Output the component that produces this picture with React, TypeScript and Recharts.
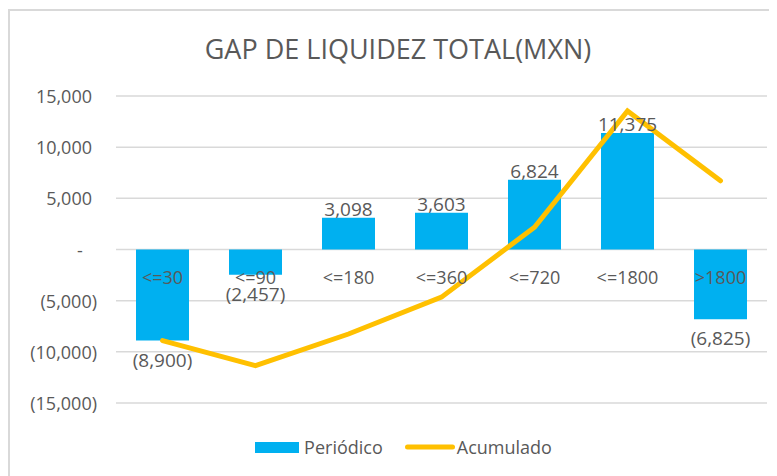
import React from 'react';
import { ComposedChart, Bar, Line, XAxis, YAxis, CartesianGrid, LabelList, Legend } from 'recharts';

const title = 'GAP DE LIQUIDEZ TOTAL(MXN)';
const categories = ['<=30', '<=90', '<=180', '<=360', '<=720', '<=1800', '>1800'];
const periodico = [-8900, -2457, 3098, 3603, 6824, 11375, -6825];
const acumulado = [-8900, -11357, -8259, -4656, 2168, 13543, 6718];
const yTicks = [15000, 10000, 5000, 0, -5000, -10000, -15000];
const seriesNames = { periodico: 'Periódico', acumulado: 'Acumulado' };

const data = categories.map((c, i) => ({ cat: c, periodico: periodico[i], acumulado: acumulado[i] }));

const FONT = '"Open Sans", sans-serif';
const TEXT = '#595959';
const BLUE = '#00B0F0';
const GOLD = '#FFC000';

const fmt = (v: number) => {
  const s = Math.abs(v).toLocaleString('en-US');
  if (v < 0) return `(${s})`;
  if (v === 0) return '-';
  return s;
};

const YTick = (props: any) => {
  const { x, y, payload } = props;
  const v = payload.value;
  let tx = x;
  let anchor = 'end';
  if (v < 0) tx = x + 5;
  else if (v === 0) {
    tx = x - 12;
    anchor = 'middle';
  }
  return (
    <text x={tx} y={y} textAnchor={anchor} dominantBaseline="central" fill={TEXT} fontSize={18} fontFamily={FONT}>
      {fmt(v)}
    </text>
  );
};

const geom = (props: any) => {
  const vb = props.viewBox || {};
  const x = Number(props.x ?? vb.x);
  const y = Number(props.y ?? vb.y);
  const w = Number(props.width ?? vb.width);
  const h = Number(props.height ?? vb.height);
  return { cx: x + w / 2, top: Math.min(y, y + h), bottom: Math.max(y, y + h) };
};

const ValueLabel = (props: any) => {
  const { cx, top, bottom } = geom(props);
  const v = Number(props.value);
  const ty = v >= 0 ? top - 9 : bottom + 19;
  return (
    <text x={cx} y={ty} textAnchor="middle" dominantBaseline="central" fill={TEXT} fontSize={19} fontFamily={FONT}>
      {fmt(v)}
    </text>
  );
};

const CatLabel = (props: any) => {
  const { cx, top, bottom } = geom(props);
  const v = periodico[props.index];
  const zero = v >= 0 ? bottom : top;
  return (
    <text x={cx} y={zero + 27} textAnchor="middle" dominantBaseline="central" fill={TEXT} fontSize={18} fontFamily={FONT}>
      {props.value}
    </text>
  );
};

const LegendContent = () => (
  <div
    style={{
      display: 'flex',
      justifyContent: 'center',
      alignItems: 'center',
      paddingLeft: 20,
      height: 26,
      fontFamily: FONT,
      fontSize: 18,
      color: TEXT,
    }}
  >
    <span style={{ display: 'inline-block', width: 44, height: 11, background: BLUE, marginRight: 5 }} />
    <span style={{ marginRight: 22 }}>{seriesNames.periodico}</span>
    <svg width={50} height={8} style={{ marginRight: 2 }}>
      <line x1={2.5} y1={4} x2={47.5} y2={4} stroke={GOLD} strokeWidth={5} strokeLinecap="round" />
    </svg>
    <span>{seriesNames.acumulado}</span>
  </div>
);

export default function App() {
  return (
    <div
      style={{
        position: 'relative',
        width: 767,
        height: 465,
        marginTop: 1,
        borderLeft: '2px solid #d9d9d9',
        borderTop: '2px solid #d9d9d9',
        background: '#fff',
      }}
    >
      <div
        style={{
          position: 'absolute',
          left: 0,
          top: 24,
          width: 776,
          textAlign: 'center',
          fontFamily: FONT,
          fontSize: 27,
          lineHeight: '27px',
          color: TEXT,
          zIndex: 2,
        }}
      >
        {title}
      </div>
      <ComposedChart
        width={767}
        height={465}
        data={data}
        margin={{ top: 85, right: 10, bottom: 73, left: 0 }}
        barSize={53}
      >
        <CartesianGrid vertical={false} stroke="#d9d9d9" strokeWidth={1.5} />
        <XAxis dataKey="cat" hide />
        <YAxis
          width={106}
          domain={[-15000, 15000]}
          ticks={yTicks}
          interval={0}
          axisLine={false}
          tickLine={false}
          tickSize={0}
          tickMargin={24}
          tick={<YTick />}
        />
        <Legend verticalAlign="middle" content={<LegendContent />} wrapperStyle={{ top: 423, left: 0, width: 767 }} />
        <Bar dataKey="periodico" name={seriesNames.periodico} fill={BLUE} isAnimationActive={false}>
          <LabelList dataKey="periodico" content={<ValueLabel />} />
          <LabelList dataKey="cat" content={<CatLabel />} />
        </Bar>
        <Line
          dataKey="acumulado"
          name={seriesNames.acumulado}
          stroke={GOLD}
          strokeWidth={5}
          strokeLinecap="round"
          dot={false}
          activeDot={false}
          type="linear"
          isAnimationActive={false}
        />
      </ComposedChart>
    </div>
  );
}
